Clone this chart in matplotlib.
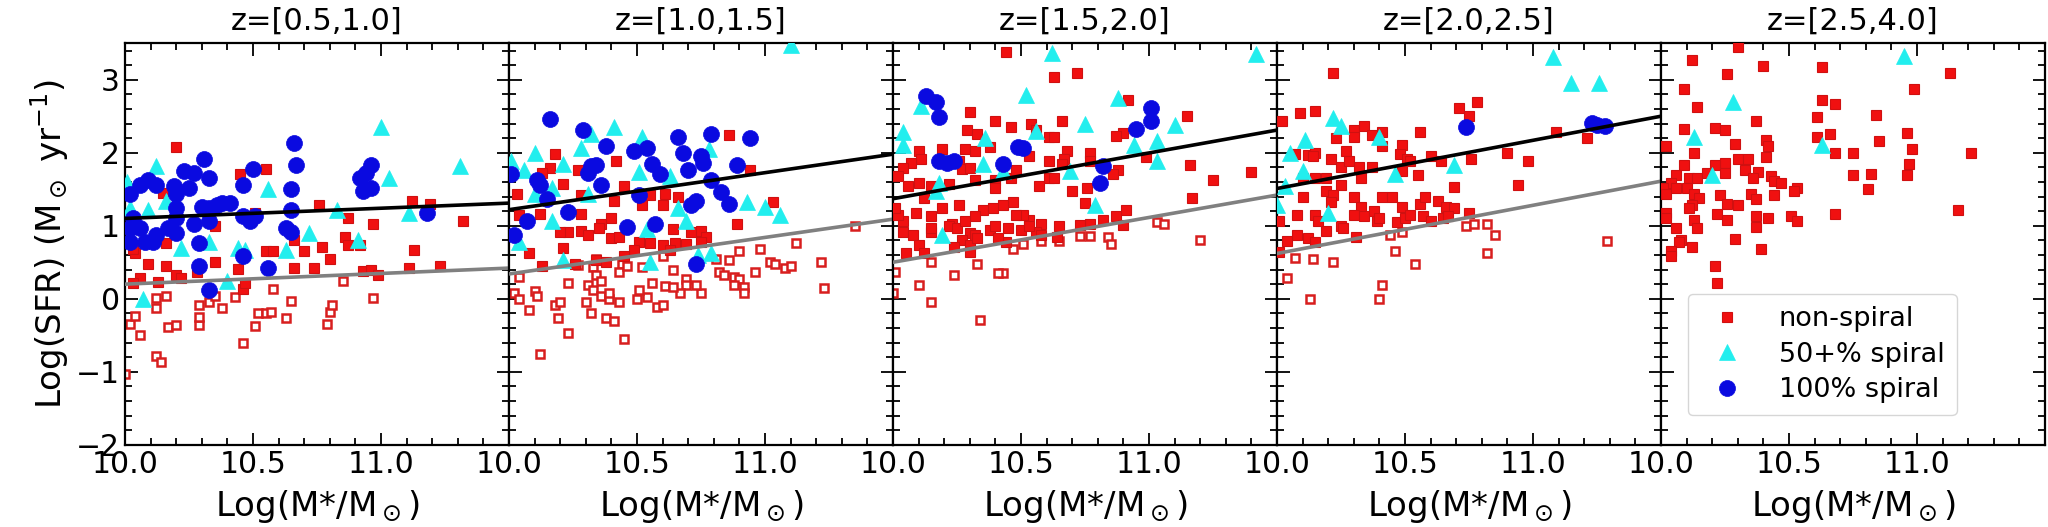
import matplotlib
matplotlib.use('Agg')
import matplotlib.pyplot as plt
from matplotlib.ticker import MultipleLocator
import numpy as np

# redshift bins
z_labels = ['z=[0.5,1.0]', 'z=[1.0,1.5]', 'z=[1.5,2.0]', 'z=[2.0,2.5]', 'z=[2.5,4.0]']

# main-sequence relation (black) and the lower cut (gray), value at logM=10.0 and 11.5
ms_black = [(1.10, 1.31), (1.22, 1.98), (1.37, 2.31), (1.51, 2.50), None]
ms_gray = [(0.20, 0.42), (0.34, 1.09), (0.50, 1.42), (0.62, 1.61), None]

# ---- z = 0.5-1.0 ----
p1_red = [(10.20, 2.08), (10.55, 1.78), (10.45, 1.71), (10.76, 1.29), (10.87, 1.10), (10.97, 1.03),
          (11.12, 1.34), (11.19, 1.30), (11.32, 1.07), (10.86, 0.85), (10.87, 0.74), (10.70, 0.65),
          (10.77, 0.71), (10.80, 0.55), (10.92, 0.74), (11.13, 0.67), (10.55, 0.65), (10.58, 0.65),
          (10.51, 1.17), (10.44, 0.41), (10.35, 0.51), (10.16, 0.45), (10.09, 0.48), (10.04, 0.62),
          (10.16, 0.76), (10.66, 0.42), (10.74, 0.42), (11.11, 0.42), (11.23, 0.45), (10.93, 0.38),
          (10.96, 0.40), (10.99, 0.33), (10.06, 0.28), (10.03, 0.21), (10.13, 0.23), (10.20, 0.32),
          (10.22, 0.28), (10.46, 0.14), (10.47, 0.21), (10.35, 0.99), (10.66, 0.81), (10.15, 1.45),
          (10.03, 0.68), (10.28, 0.37)]
p1_open = [(10.00, -1.03), (10.02, -0.35), (10.04, -0.24), (10.06, -0.50), (10.12, -0.78), (10.14, -0.86),
           (10.12, -0.13), (10.12, 0.01), (10.16, 0.04), (10.17, -0.39), (10.20, -0.36), (10.29, -0.36),
           (10.29, -0.25), (10.29, -0.09), (10.33, -0.05), (10.35, 0.04), (10.38, -0.13), (10.43, 0.02),
           (10.46, -0.60), (10.51, -0.37), (10.52, -0.20), (10.55, -0.20), (10.57, -0.18), (10.58, 0.13),
           (10.63, -0.27), (10.65, -0.03), (10.79, -0.34), (10.80, -0.18), (10.81, -0.09), (10.85, 0.25),
           (10.97, 0.01)]
p1_cyan = [(10.12, 1.82), (10.56, 1.51), (11.00, 2.35), (11.03, 1.66), (11.31, 1.82), (10.83, 1.22),
           (11.11, 1.17), (10.72, 0.90), (10.91, 0.81), (10.63, 0.67), (10.44, 0.69), (10.47, 0.67),
           (10.33, 0.78), (10.22, 0.69), (10.40, 0.25), (10.07, -0.01), (10.09, 1.22), (10.16, 1.34),
           (10.02, 1.24), (10.01, 1.60)]
p1_blue = [(10.66, 2.13), (10.67, 1.83), (10.65, 1.51), (10.65, 1.22), (10.63, 0.97), (10.65, 0.91),
           (10.31, 1.92), (10.50, 1.78), (10.46, 1.56), (10.23, 1.75), (10.27, 1.72), (10.33, 1.66),
           (10.25, 1.52), (10.19, 1.55), (10.20, 1.43), (10.02, 1.43), (10.06, 1.56), (10.09, 1.63),
           (10.12, 1.56), (10.03, 1.10), (10.02, 0.97), (10.06, 0.97), (10.02, 0.78), (10.11, 0.78),
           (10.12, 0.87), (10.17, 0.97), (10.20, 0.90), (10.20, 1.24), (10.20, 1.10), (10.27, 1.03),
           (10.30, 1.26), (10.33, 1.24), (10.36, 1.29), (10.38, 1.31), (10.41, 1.31), (10.33, 1.06),
           (10.46, 1.13), (10.49, 1.06), (10.51, 1.13), (10.29, 0.76), (10.29, 0.45), (10.46, 0.58),
           (10.56, 0.42), (10.33, 0.12), (10.08, 0.78), (10.96, 1.83), (10.94, 1.72), (10.92, 1.65),
           (10.93, 1.47), (10.96, 1.52), (11.18, 1.17)]

# ---- z = 1.0-1.5 ----
p2_red = [(10.86, 2.24), (10.18, 1.98), (10.16, 1.79), (10.13, 1.72), (10.42, 1.89), (10.27, 1.76),
          (10.94, 1.76), (10.21, 1.57), (10.45, 1.55), (10.03, 1.43), (10.12, 1.16), (10.28, 1.42),
          (10.41, 1.34), (10.66, 1.40), (10.61, 1.43), (10.55, 1.42), (10.52, 1.28), (10.60, 1.29),
          (11.03, 1.32), (10.28, 1.16), (10.36, 1.03), (10.40, 1.11), (10.35, 0.97), (10.23, 0.92),
          (10.20, 0.92), (10.28, 0.93), (10.31, 0.88), (10.40, 0.83), (10.43, 0.85), (10.55, 0.77),
          (10.51, 0.78), (10.60, 0.74), (10.65, 0.76), (10.69, 0.75), (10.71, 0.91), (10.75, 0.93),
          (10.77, 0.84), (10.75, 0.78), (10.64, 0.96), (10.89, 1.02), (10.49, 0.67), (10.08, 0.62),
          (10.13, 0.45), (10.21, 0.69), (10.26, 0.47), (10.34, 0.53), (10.38, 0.51), (10.45, 0.58),
          (10.63, 0.67), (10.04, 1.15)]
p2_open = [(11.35, 0.99), (11.12, 0.77), (10.98, 0.68), (10.90, 0.66), (10.86, 0.53), (10.81, 0.55),
           (11.02, 0.51), (11.04, 0.48), (11.08, 0.42), (11.10, 0.45), (11.22, 0.51), (10.96, 0.36),
           (10.82, 0.36), (10.84, 0.32), (10.88, 0.30), (10.90, 0.27), (10.88, 0.19), (10.92, 0.16),
           (10.92, 0.08), (10.75, 0.08), (10.73, 0.19), (10.69, 0.27), (10.69, 0.19), (10.67, 0.08),
           (10.64, 0.39), (10.61, 0.18), (10.64, 0.16), (10.56, 0.21), (10.54, 0.02), (10.51, 0.12),
           (10.50, -0.01), (10.60, 0.58), (10.52, 0.44), (10.44, 0.47), (10.43, 0.37), (10.46, 0.45),
           (10.34, 0.54), (10.33, 0.44), (10.34, 0.32), (10.27, 0.46), (10.23, 0.21), (10.31, 0.19),
           (10.33, 0.12), (10.36, 0.24), (10.36, 0.04), (10.39, 0.00), (10.39, 0.08), (10.43, -0.04),
           (10.30, -0.05), (10.32, -0.20), (10.38, -0.26), (10.41, -0.31), (10.23, -0.47), (10.19, -0.27),
           (10.18, -0.09), (10.20, -0.04), (10.04, 0.30), (10.02, 0.08), (10.04, -0.01), (10.10, 0.10),
           (10.11, 0.04), (10.08, -0.16), (11.23, 0.15), (10.58, -0.11), (10.60, -0.09), (10.12, -0.76),
           (10.45, -0.55)]
p2_cyan = [(10.41, 2.35), (10.52, 2.21), (10.32, 2.25), (10.28, 2.07), (10.10, 1.99), (10.21, 1.85),
           (10.06, 1.77), (10.01, 1.88), (10.51, 1.74), (10.63, 1.68), (10.78, 2.05), (10.17, 1.52),
           (10.93, 1.33), (11.00, 1.26), (11.06, 1.15), (10.66, 1.24), (10.69, 1.06), (10.17, 1.06),
           (10.04, 0.78), (10.21, 0.53), (10.55, 0.51), (10.54, 0.96), (10.79, 0.62), (10.74, 0.60),
           (10.31, 1.43), (10.10, 1.43), (11.10, 3.47)]
p2_blue = [(10.16, 2.46), (10.29, 2.31), (10.38, 2.09), (10.49, 2.02), (10.54, 2.06), (10.66, 2.21),
           (10.68, 2.00), (10.79, 2.26), (10.75, 1.95), (10.76, 1.86), (10.94, 2.20), (10.89, 1.83),
           (10.56, 1.85), (10.59, 1.71), (10.70, 1.76), (10.32, 1.82), (10.34, 1.83), (10.31, 1.72),
           (10.36, 1.56), (10.11, 1.62), (10.12, 1.56), (10.15, 1.36), (10.01, 1.71), (10.79, 1.62),
           (10.83, 1.46), (10.86, 1.30), (10.51, 1.42), (10.71, 1.29), (10.73, 1.34), (10.23, 1.19),
           (10.07, 1.07), (10.02, 0.88), (10.46, 0.98), (10.57, 1.03), (10.73, 0.47)]

# ---- z = 1.5-2.0 ----
p3_red = [(10.44, 3.38), (10.63, 3.04), (10.72, 3.09), (10.92, 2.72), (11.15, 2.50), (10.30, 2.56),
          (10.40, 2.44), (10.46, 2.35), (10.54, 2.40), (10.66, 2.44), (10.29, 2.31), (10.33, 2.26),
          (10.38, 2.08), (10.56, 2.31), (10.61, 2.21), (10.63, 2.21), (10.90, 2.27), (10.87, 2.23),
          (10.28, 2.05), (10.32, 2.03), (10.19, 2.05), (10.10, 2.02), (10.11, 1.92), (10.07, 1.86),
          (10.04, 1.79), (10.02, 1.68), (10.06, 1.55), (10.10, 1.59), (10.12, 1.38), (10.15, 1.54),
          (10.22, 1.57), (10.26, 1.89), (10.27, 1.78), (10.30, 1.79), (10.32, 1.63), (10.40, 1.63),
          (10.40, 1.52), (10.46, 1.65), (10.48, 1.76), (10.53, 1.95), (10.61, 1.88), (10.68, 2.02),
          (10.77, 2.00), (10.67, 1.91), (10.61, 1.65), (10.63, 1.66), (10.66, 1.84), (10.77, 1.88),
          (10.88, 1.77), (10.86, 1.71), (10.99, 1.94), (11.16, 1.83), (11.40, 1.74), (11.25, 1.62),
          (11.17, 1.38), (10.57, 1.55), (10.70, 1.47), (10.75, 1.31), (10.76, 1.52), (10.91, 1.22),
          (10.87, 1.13), (10.82, 1.08), (10.90, 1.01), (10.77, 1.03), (10.73, 1.01), (10.65, 0.99),
          (10.58, 1.03), (10.53, 1.08), (10.51, 1.15), (10.48, 1.15), (10.47, 1.33), (10.43, 1.29),
          (10.39, 1.24), (10.35, 1.22), (10.32, 1.13), (10.26, 1.29), (10.23, 1.03), (10.19, 1.24),
          (10.15, 1.13), (10.09, 1.17), (10.04, 1.06), (10.02, 1.15), (10.01, 1.24), (10.04, 0.92),
          (10.08, 0.87), (10.15, 0.92), (10.15, 0.97), (10.22, 0.99), (10.25, 0.97), (10.28, 1.06),
          (10.30, 0.90), (10.27, 0.81), (10.32, 0.87), (10.38, 0.94), (10.40, 0.99), (10.45, 0.97),
          (10.50, 0.94), (10.56, 0.92), (10.58, 0.87), (10.64, 0.85), (10.44, 0.78), (10.30, 0.74),
          (10.24, 0.71), (10.05, 0.62), (10.10, 0.74), (10.12, 0.62), (10.30, 0.64), (10.33, 0.83),
          (10.53, 0.99), (10.41, 0.83)]
p3_open = [(11.03, 1.05), (11.06, 1.02), (11.20, 0.80), (10.84, 0.84), (10.85, 0.75), (10.77, 0.86),
           (10.73, 0.86), (10.65, 0.79), (10.58, 0.79), (10.51, 0.75), (10.47, 0.68), (10.43, 0.35),
           (10.41, 0.35), (10.33, 0.47), (10.24, 0.33), (10.15, 0.50), (10.10, 0.19), (10.15, -0.04),
           (10.34, -0.29), (10.01, 0.37), (10.00, 0.08)]
p3_cyan = [(10.62, 3.36), (11.42, 3.35), (10.52, 2.79), (10.88, 2.75), (10.11, 2.64), (10.04, 2.29),
           (10.04, 2.10), (10.56, 2.30), (10.36, 2.20), (10.75, 2.40), (11.10, 2.38), (10.94, 2.11),
           (11.03, 2.16), (11.03, 1.88), (10.35, 1.85), (10.43, 1.75), (10.69, 1.75), (10.18, 1.59),
           (10.17, 1.47), (10.79, 1.29), (10.19, 0.87)]
p3_blue = [(10.13, 2.78), (10.17, 2.70), (10.18, 2.49), (10.18, 1.88), (10.21, 1.86), (10.24, 1.88),
           (10.43, 1.84), (10.49, 2.08), (10.51, 2.06), (10.82, 1.82), (10.81, 1.59), (10.95, 2.33),
           (11.01, 2.61), (11.01, 2.44)]

# ---- z = 2.0-2.5 ----
p4_red = [(10.22, 3.09), (10.78, 2.69), (10.71, 2.61), (10.75, 2.50), (10.09, 2.55), (10.15, 2.57),
          (10.02, 2.43), (10.30, 2.31), (10.34, 2.37), (10.37, 2.24), (10.41, 2.29), (10.23, 2.20),
          (10.30, 2.21), (10.56, 2.29), (10.41, 2.09), (10.49, 2.10), (10.07, 1.98), (10.12, 1.97),
          (10.15, 2.00), (10.27, 2.02), (10.48, 1.98), (10.51, 1.92), (10.52, 1.89), (10.60, 1.95),
          (10.64, 1.88), (10.76, 1.92), (10.90, 2.00), (10.98, 1.89), (11.09, 2.29), (11.21, 2.20),
          (10.21, 1.91), (10.25, 1.80), (10.28, 1.88), (10.32, 1.80), (10.37, 1.80), (10.49, 1.75),
          (10.55, 1.70), (10.10, 1.66), (10.15, 1.65), (10.19, 1.65), (10.25, 1.56), (10.19, 1.48),
          (10.22, 1.42), (10.33, 1.65), (10.30, 1.40), (10.21, 1.32), (10.10, 1.40), (10.69, 1.53),
          (10.94, 1.56), (10.41, 1.40), (10.45, 1.40), (10.49, 1.25), (10.56, 1.30), (10.58, 1.39),
          (10.63, 1.34), (10.66, 1.26), (10.69, 1.24), (10.33, 1.26), (10.30, 1.15), (10.34, 1.13),
          (10.38, 1.20), (10.39, 1.06), (10.40, 1.10), (10.47, 1.05), (10.50, 1.10), (10.52, 1.15),
          (10.57, 1.14), (10.60, 1.07), (10.65, 1.10), (10.67, 1.13), (10.75, 1.17), (10.08, 1.15),
          (10.15, 1.15), (10.16, 1.06), (10.01, 1.06), (10.19, 0.93), (10.25, 1.00), (10.26, 0.97),
          (10.31, 0.85), (10.08, 0.88), (10.12, 0.83), (10.15, 0.78), (10.04, 0.79), (10.01, 0.64),
          (10.14, 1.95)]
p4_open = [(10.74, 0.99), (10.77, 1.03), (10.82, 1.03), (10.85, 0.88), (10.82, 0.62), (11.29, 0.79),
           (10.44, 0.88), (10.49, 0.91), (10.46, 0.65), (10.22, 0.50), (10.14, 0.55), (10.07, 0.56),
           (10.04, 0.29), (10.13, -0.01), (10.40, -0.01), (10.41, 0.19), (10.54, 0.48)]
p4_cyan = [(11.08, 3.31), (11.15, 2.95), (11.26, 2.95), (10.22, 2.47), (10.25, 2.37), (10.11, 2.17),
           (10.40, 2.21), (10.05, 1.99), (10.10, 1.75), (10.03, 1.54), (10.00, 1.29), (10.46, 1.71),
           (10.69, 1.83), (10.20, 1.17)]
p4_blue = [(10.74, 2.35), (11.23, 2.41), (11.25, 2.38), (11.28, 2.37)]

# ---- z = 2.5-4.0 ----
p5_red = [(10.30, 3.45), (10.12, 3.27), (10.40, 3.19), (10.63, 3.18), (10.26, 3.08), (11.13, 3.09),
          (10.09, 2.87), (10.99, 2.87), (10.14, 2.62), (10.63, 2.72), (10.68, 2.67), (10.61, 2.49),
          (10.84, 2.52), (10.37, 2.44), (10.09, 2.32), (10.21, 2.34), (10.25, 2.31), (10.29, 2.12),
          (10.41, 2.17), (10.42, 2.09), (10.02, 2.09), (10.61, 2.21), (10.66, 2.26), (10.96, 2.27),
          (10.85, 2.16), (10.68, 1.99), (10.75, 1.99), (10.98, 2.05), (11.21, 2.00), (10.13, 2.00),
          (10.41, 1.94), (10.30, 1.91), (10.34, 1.91), (10.25, 1.86), (10.09, 1.83), (10.21, 1.83),
          (10.25, 1.72), (10.33, 1.77), (10.38, 1.74), (10.36, 1.66), (10.43, 1.68), (10.44, 1.61),
          (10.47, 1.59), (10.53, 1.52), (10.52, 1.47), (10.06, 1.70), (10.04, 1.59), (10.11, 1.66),
          (10.14, 1.66), (10.18, 1.72), (10.01, 1.52), (10.02, 1.43), (10.06, 1.52), (10.10, 1.52),
          (10.13, 1.43), (10.15, 1.38), (10.12, 1.29), (10.11, 1.24), (10.23, 1.42), (10.26, 1.30),
          (10.30, 1.28), (10.35, 1.43), (10.37, 1.36), (10.44, 1.42), (10.75, 1.70), (10.82, 1.71),
          (10.96, 1.70), (10.97, 1.85), (10.81, 1.51), (10.68, 1.16), (11.16, 1.22), (10.22, 1.16),
          (10.26, 1.08), (10.37, 1.14), (10.42, 1.11), (10.51, 1.13), (10.53, 1.07), (10.02, 1.17),
          (10.02, 1.10), (10.13, 1.08), (10.14, 0.97), (10.06, 0.97), (10.08, 0.81), (10.07, 0.78),
          (10.12, 0.71), (10.04, 0.65), (10.04, 0.58), (10.29, 0.82), (10.37, 0.98), (10.39, 0.68),
          (10.21, 0.45), (10.22, 0.22)]
p5_open = []
p5_cyan = [(10.95, 3.32), (10.28, 2.70), (10.13, 2.21), (10.20, 1.69), (10.63, 2.10)]
p5_blue = []

red_sets = [p1_red, p2_red, p3_red, p4_red, p5_red]
open_sets = [p1_open, p2_open, p3_open, p4_open, p5_open]
cyan_sets = [p1_cyan, p2_cyan, p3_cyan, p4_cyan, p5_cyan]
blue_sets = [p1_blue, p2_blue, p3_blue, p4_blue, p5_blue]


def xy(pts):
    a = np.array(pts, dtype=float).reshape(-1, 2)
    return a[:, 0], a[:, 1]


plt.rcParams['font.family'] = 'DejaVu Sans'
fig, axes = plt.subplots(1, 5, figsize=(20.48, 5.27), dpi=100, sharey=True)
fig.subplots_adjust(left=0.061, right=0.9985, bottom=0.156, top=0.918, wspace=0)

for i, ax in enumerate(axes):
    x, y = xy(open_sets[i])
    ax.plot(x, y, ls='none', marker='s', ms=5.2, mfc='white', mec='#d81e1e', mew=1.8, zorder=2)
    x, y = xy(red_sets[i])
    ax.plot(x, y, ls='none', marker='s', ms=7.2, mfc='#f01010', mec='#d01010', mew=0.8,
            zorder=3, label='non-spiral')
    x, y = xy(cyan_sets[i])
    ax.plot(x, y, ls='none', marker='^', ms=11.5, mfc='#22eeee', mec='#22eeee', mew=0.5,
            zorder=4, label='50+% spiral')
    x, y = xy(blue_sets[i])
    ax.plot(x, y, ls='none', marker='o', ms=11.5, mfc='#0a0ae0', mec='#0a0ae0', mew=0.5,
            zorder=5, label='100% spiral')

    if ms_black[i] is not None:
        ax.plot([10.0, 11.5], ms_black[i], color='black', lw=2.6, zorder=6)
        ax.plot([10.0, 11.5], ms_gray[i], color='#808080', lw=2.6, zorder=6)

    ax.set_xlim(10.0, 11.5)
    ax.set_ylim(-2, 3.5)
    ax.set_xticks([10.0, 10.5, 11.0])
    ax.xaxis.set_minor_locator(MultipleLocator(0.1))
    ax.yaxis.set_major_locator(MultipleLocator(1))
    ax.yaxis.set_minor_locator(MultipleLocator(0.2))
    ax.tick_params(which='both', direction='in', top=True, right=True, labelsize=21.5, width=1.3)
    ax.tick_params(which='major', length=9)
    ax.tick_params(which='minor', length=5)
    for s in ax.spines.values():
        s.set_linewidth(1.6)
    ax.set_title(z_labels[i], fontsize=22, pad=10)
    ax.set_xlabel(r'Log(M*/M$_\odot$)', fontsize=24.5, labelpad=7)

axes[0].set_ylabel(r'Log(SFR) (M$_\odot$ yr$^{-1}$)', fontsize=24.5)

h, l = axes[1].get_legend_handles_labels()
axes[4].legend(h, l, loc='lower left', bbox_to_anchor=(0.035, 0.04), fontsize=19.5, numpoints=1,
               handletextpad=0.9, borderpad=0.45, labelspacing=0.35)

fig.savefig('out.png', dpi=100)
